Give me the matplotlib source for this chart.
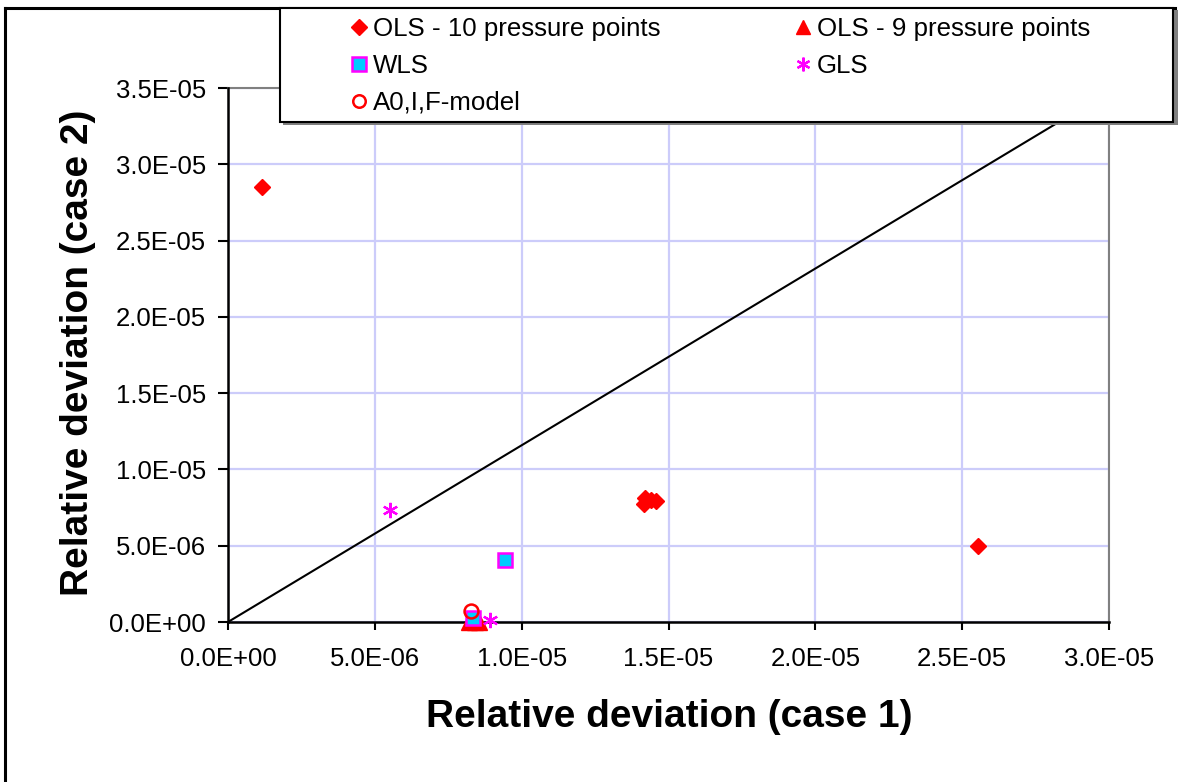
import matplotlib
matplotlib.use("Agg")
import matplotlib.pyplot as plt
from matplotlib.patches import Rectangle
from matplotlib.lines import Line2D

plt.rcParams['font.family'] = ['Liberation Sans', 'DejaVu Sans']

# data
ols10_x = [1.16e-6, 2.555e-5, 1.42e-5, 1.418e-5, 1.44e-5, 1.458e-5]
ols10_y = [2.851e-5, 4.98e-6, 8.13e-6, 7.75e-6, 8.0e-6, 7.9e-6]

ols9_x = [8.2e-6, 8.4e-6, 8.55e-6]
ols9_y = [0.0, 0.0, 0.0]

wls_x = [9.42e-6, 8.34e-6]
wls_y = [4.06e-6, 2.6e-7]

gls_x = [5.52e-6, 8.92e-6]
gls_y = [7.34e-6, 1.3e-7]

a0_x = [8.26e-6]
a0_y = [7.2e-7]

line_x = [0.0, 3.0e-5]
line_y = [0.0, 3.475e-5]

x_ticks = [0.0, 5e-6, 1e-5, 1.5e-5, 2e-5, 2.5e-5, 3e-5]
x_labels = ["0.0E+00", "5.0E-06", "1.0E-05", "1.5E-05", "2.0E-05", "2.5E-05", "3.0E-05"]
y_ticks = [0.0, 5e-6, 1e-5, 1.5e-5, 2e-5, 2.5e-5, 3e-5, 3.5e-5]
y_labels = ["0.0E+00", "5.0E-06", "1.0E-05", "1.5E-05", "2.0E-05", "2.5E-05", "3.0E-05", "3.5E-05"]

W, H = 1191, 782
fig = plt.figure(figsize=(W / 100, H / 100), dpi=100)
ax = fig.add_axes([228 / W, 1 - 622 / H, (1109 - 228) / W, (622 - 88) / H])

ax.set_xlim(0, 3e-5)
ax.set_ylim(0, 3.5e-5)
ax.set_xticks(x_ticks)
ax.set_xticklabels(x_labels)
ax.set_yticks(y_ticks)
ax.set_yticklabels(y_labels)
ax.tick_params(axis='x', direction='out', length=6, width=1.5, pad=12, labelsize=18.5)
ax.tick_params(axis='y', direction='out', length=7, width=1.5, pad=9, labelsize=18.5)
ax.grid(True, color='#ccccfa', linewidth=1.6)
ax.set_axisbelow(True)

for s in ['left', 'bottom']:
    ax.spines[s].set_color('black')
    ax.spines[s].set_linewidth(1.8)
    ax.spines[s].set_zorder(3)
for s in ['top', 'right']:
    ax.spines[s].set_color('#808080')
    ax.spines[s].set_linewidth(1.5)

ax.plot(line_x, line_y, color='black', linewidth=1.5, zorder=2)

h1, = ax.plot(ols10_x, ols10_y, linestyle='none', marker='D', markersize=8.5,
              color='#ff0000', markeredgecolor='#ff0000', clip_on=False, zorder=4)
h2, = ax.plot(ols9_x, ols9_y, linestyle='none', marker='^', markersize=11,
              color='#ff0000', markeredgecolor='#ff0000', clip_on=False, zorder=4)
h3, = ax.plot(wls_x, wls_y, linestyle='none', marker='s', markersize=10.5,
              markerfacecolor='#00ccff', markeredgecolor='#ff00ff', markeredgewidth=1.8,
              clip_on=False, zorder=5)
h4, = ax.plot(gls_x, gls_y, linestyle='none', marker=(6, 2, 0), markersize=11,
              color='#ff00ff', markeredgecolor='#ff00ff', markeredgewidth=1.6,
              clip_on=False, zorder=5)
h5, = ax.plot(a0_x, a0_y, linestyle='none', marker='o', markersize=10,
              markerfacecolor='none', markeredgecolor='#ff0000', markeredgewidth=1.8,
              clip_on=False, zorder=6)

# outer chart border (only left and top visible)
fig.add_artist(Line2D([5 / W, 5 / W], [0, 1 - 8 / H], transform=fig.transFigure,
                      color='black', linewidth=2.2))
fig.add_artist(Line2D([5 / W, 1 - 16 / W], [1 - 8 / H, 1 - 8 / H], transform=fig.transFigure,
                      color='black', linewidth=2.2))

# legend frame with a small shadow
fig.add_artist(Rectangle((283 / W, 1 - 125 / H), (1175 - 280) / W, (125 - 10) / H,
                         transform=fig.transFigure, facecolor='#808080', edgecolor='none', zorder=9))
fig.add_artist(Rectangle((280 / W, 1 - 122 / H), (1173 - 280) / W, (122 - 8) / H,
                         transform=fig.transFigure, facecolor='white', edgecolor='black',
                         linewidth=1.5, zorder=10))

handles = [h1, h3, h5, h2, h4]
labels = ["OLS - 10 pressure points", "WLS", "A0,I,F-model",
          "OLS - 9 pressure points", "GLS"]
leg = fig.legend(handles, labels, loc='upper left', bbox_to_anchor=(333 / W, 1.0),
                 ncol=2, frameon=False, fontsize=18.6, handlelength=0.7, handletextpad=0.2,
                 columnspacing=5.15, labelspacing=0.5, borderpad=0.15, markerscale=0.9)
leg.set_zorder(11)

fig.text(669 / W, 1 - 717 / H, "Relative deviation (case 1)", ha='center', va='center',
         fontsize=28, fontweight='bold')
fig.text(78 / W, 1 - 353 / H, "Relative deviation (case 2)", ha='center', va='center',
         rotation=90, fontsize=28, fontweight='bold')

fig.savefig("out.png", dpi=100)
